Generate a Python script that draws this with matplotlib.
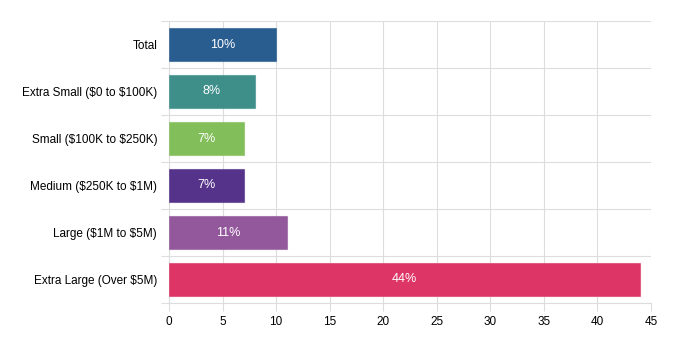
import matplotlib as mpl
import matplotlib.pyplot as plt
import numpy as np

mpl.rcParams.update(
    {
        "font.family": ["Liberation Sans", "DejaVu Sans"],
        "font.size": 8.5,
        "xtick.labelsize": 8.5,
        "ytick.labelsize": 8.5,
        "text.parse_math": False,
    }
)

categories = [
    "Total",
    "Extra Small ($0 to $100K)",
    "Small ($100K to $250K)",
    "Medium ($250K to $1M)",
    "Large ($1M to $5M)",
    "Extra Large (Over $5M)",
]
values = [10, 8, 7, 7, 11, 44]
bar_colors = ["#2a5d8f", "#3e8e8a", "#82be5a", "#55338a", "#93589c", "#dc3566"]
xticks = [0, 5, 10, 15, 20, 25, 30, 35, 40, 45]

GRID = "#dddddd"

fig = plt.figure(figsize=(6.83, 3.46), dpi=100)
ax = fig.add_axes([169 / 683, 1 - 303 / 346, 482 / 683, 282 / 346])

y = np.arange(len(categories))
bars = ax.barh(y, values, height=0.72, color=bar_colors, zorder=3)
for b, c in zip(bars, bar_colors):
    b.set_edgecolor(mpl.colors.to_rgba(c, 0.6))
    b.set_linewidth(0.8)

for yi, v in zip(y, values):
    ax.text(v / 2, yi, f"{v}%", ha="center", va="center", color="white",
            fontsize=9, zorder=4)

ax.set_xlim(0, 45)
ax.set_ylim(len(categories) - 0.5, -0.5)
ax.set_xticks(xticks)
ax.set_yticks(y, categories)
ax.set_yticks(np.arange(len(categories) + 1) - 0.5, minor=True)

ax.grid(axis="x", color=GRID, lw=0.8, zorder=0)
ax.grid(axis="y", which="minor", color=GRID, lw=0.8, zorder=0)
ax.tick_params(axis="y", which="major", length=0, pad=8.5)
ax.tick_params(axis="y", which="minor", length=6, color=GRID, width=0.8)
ax.tick_params(axis="x", length=6, color=GRID, width=0.8, pad=3.5)

for s in ["top", "right"]:
    ax.spines[s].set_visible(False)
ax.spines["left"].set_color(GRID)
ax.spines["bottom"].set_color(GRID)
ax.spines["left"].set_linewidth(0.8)
ax.spines["bottom"].set_linewidth(0.8)

fig.savefig("out.png", dpi=100)
